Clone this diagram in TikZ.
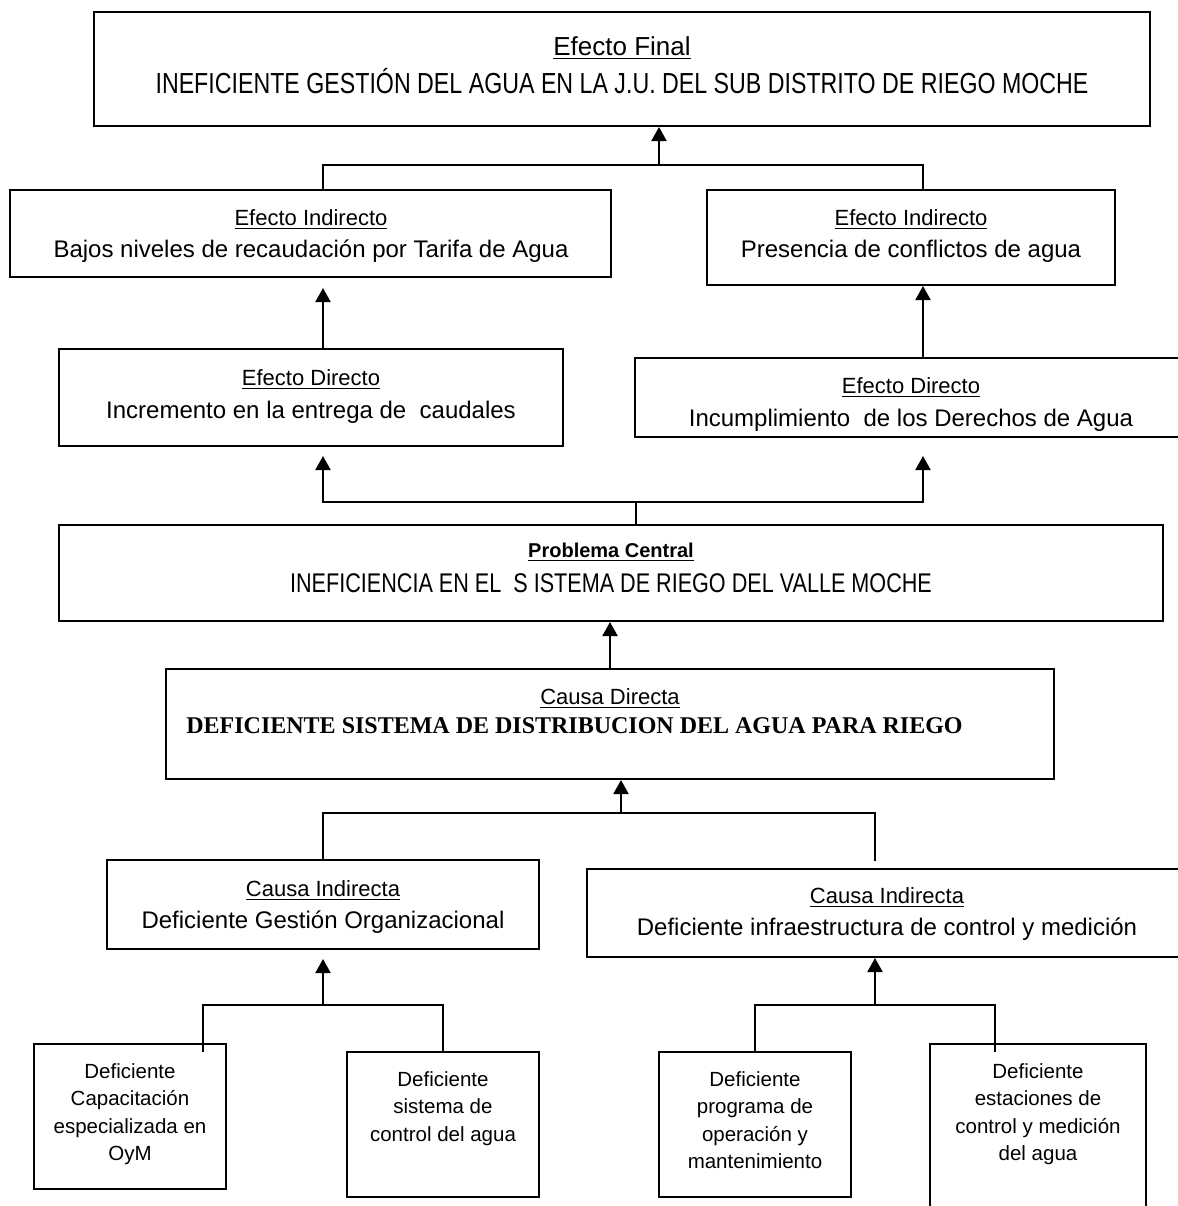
\documentclass[tikz,border=0pt]{standalone}
\usepackage{fontspec}
\setmainfont{Liberation Sans}
\newfontfamily\narrowfont{Liberation Sans}[FakeStretch=0.8]
\newfontfamily\timesfont{Liberation Serif}
\usetikzlibrary{arrows.meta}

\begin{document}
\begin{tikzpicture}[x=0.5pt,y=-0.5pt]
\tikzset{box/.style={draw,line width=1pt,rectangle,inner sep=0pt},
  lbl/.style={anchor=base,inner sep=0pt},
  ttl/.style={lbl,font=\fontsize{11}{13}\selectfont},
  txt/.style={lbl,font=\fontsize{12}{14}\selectfont},
  big/.style={lbl,font=\narrowfont\fontsize{14.5}{17}\selectfont},
  leaf/.style={anchor=north,inner sep=0pt,align=center,font=\fontsize{10.25}{13.75}\selectfont},
  arr/.style={line width=1pt,-{Triangle[length=7pt,width=7.5pt]}},
  ln/.style={line width=0.8pt}}

\useasboundingbox (0,0) rectangle (1178,1206);
\clip (0,0) rectangle (1178,1206);

% efectos
\path (622,69) node[box,minimum width=528pt,minimum height=57pt] (ef) {};
\path (622,55) node[lbl,font=\fontsize{13}{15}\selectfont] (efT) {\underline{Efecto Final}};
\path (622,93) node[big] (efM) {INEFICIENTE GESTIÓN DEL AGUA EN LA J.U. DEL SUB DISTRITO DE RIEGO MOCHE};

\path (310.5,233.5) node[box,minimum width=300.5pt,minimum height=43.5pt] (ei1) {};
\path (311,225) node[ttl] (ei1T) {\underline{Efecto Indirecto}};
\path (311,257) node[txt] (ei1M) {Bajos niveles de recaudación por Tarifa de Agua};

\path (911,237.5) node[box,minimum width=204pt,minimum height=47.5pt] (ei2) {};
\path (911,225) node[ttl] (ei2T) {\underline{Efecto Indirecto}};
\path (911,257) node[txt] (ei2M) {Presencia de conflictos de agua};

\path (311,397.5) node[box,minimum width=252pt,minimum height=48.5pt] (ed1) {};
\path (311,385) node[ttl] (ed1T) {\underline{Efecto Directo}};
\path (311,418) node[txt] (ed1M) {Incremento en la entrega de\ \ caudales};

\path (912.5,397.5) node[box,minimum width=277.5pt,minimum height=39.5pt] (ed2) {};
\path (911,393) node[ttl] (ed2T) {\underline{Efecto Directo}};
\path (911,426) node[txt] (ed2M) {Incumplimiento\ \ de los Derechos de Agua};

% problema central
\path (611,573) node[box,minimum width=552pt,minimum height=48pt] (pc) {};
\path (611,557) node[lbl,font=\bfseries\fontsize{10}{12}\selectfont] (pcT) {\underline{Problema Central}};
\path (611,592) node[lbl,font=\narrowfont\fontsize{13.5}{16}\selectfont] (pcM) {INEFICIENCIA EN EL\ \ S ISTEMA DE RIEGO DEL VALLE MOCHE};

% causas
\path (610,724) node[box,minimum width=444pt,minimum height=55pt] (cd) {};
\path (610,704) node[ttl] (cdT) {\underline{Causa Directa}};
\path (186,733) node[lbl,anchor=base west,font=\timesfont\bfseries\fontsize{12}{14}\selectfont] (cdM) {DEFICIENTE SISTEMA DE DISTRIBUCION DEL AGUA PARA RIEGO};

\path (323,904.5) node[box,minimum width=216pt,minimum height=44.5pt] (ci1) {};
\path (323,896) node[ttl] (ci1T) {\underline{Causa Indirecta}};
\path (323,928) node[txt] (ci1M) {Deficiente Gestión Organizacional};

\path (888.5,913) node[box,minimum width=301.5pt,minimum height=44pt] (ci2) {};
\path (887,903) node[ttl] (ci2T) {\underline{Causa Indirecta}};
\path (887,935) node[txt] (ci2M) {Deficiente infraestructura de control y medición};

\path (130,1116.5) node[box,minimum width=96pt,minimum height=72.5pt] (l1) {};
\path (130,1063) node[leaf] (l1T) {Deficiente\\Capacitación\\especializada en\\OyM};
\path (443,1124.5) node[box,minimum width=96pt,minimum height=72.5pt] (l2) {};
\path (443,1071) node[leaf] (l2T) {Deficiente\\sistema de\\control del agua};
\path (755,1124.5) node[box,minimum width=96pt,minimum height=72.5pt] (l3) {};
\path (755,1071) node[leaf] (l3T) {Deficiente\\programa de\\operación y\\mantenimiento};
\path (1038,1137) node[box,minimum width=108pt,minimum height=93pt] (l4) {};
\path (1038,1063) node[leaf] (l4T) {Deficiente\\estaciones de\\control y medición\\del agua};

% conectores
\coordinate (j1) at (659,165);
\coordinate (j1l) at (323,165);
\coordinate (j1r) at (923,165);
\draw[ln] (ei1.north -| j1l) -- (j1l) -- (j1r) -- (ei2.north -| j1r);
\draw[arr] (j1) -- (ef.south -| j1);

\draw[arr,shorten >=5pt] (ed1.north -| j1l) -- (ei1.south -| j1l);
\draw[arr] (ed2.north -| j1r) -- (ei2.south -| j1r);

\coordinate (j2) at (636,502);
\coordinate (j2l) at (323,502);
\coordinate (j2r) at (923,502);
\draw[ln] (pc.north -| j2) -- (j2);
\draw[arr,shorten >=4.5pt] (j2) -- (j2l) -- (ed1.south -| j2l);
\draw[arr,shorten >=9pt] (j2) -- (j2r) -- (ed2.south -| j2r);

\coordinate (j3) at (610,645);
\draw[arr] (cd.north -| j3) -- (pc.south -| j3);

\coordinate (j4) at (621,813);
\coordinate (j4l) at (323,813);
\coordinate (j4r) at (875,813);
\draw[ln,shorten >=3.5pt] (ci1.north -| j4l) -- (j4l) -- (j4r) -- (ci2.north -| j4r);
\draw[arr] (j4) -- (cd.south -| j4);

\coordinate (j5) at (323,1005);
\coordinate (j5l) at (203,1005);
\coordinate (j5r) at (443,1005);
\draw[ln,shorten <=-4.5pt] (l1.north -| j5l) -- (j5l) -- (j5r) -- (l2.north -| j5r);
\draw[arr,shorten >=4.5pt] (j5) -- (ci1.south -| j5);

\coordinate (j6) at (875,1005);
\coordinate (j6l) at (755,1005);
\coordinate (j6r) at (995,1005);
\draw[ln,shorten >=-4.5pt] (l3.north -| j6l) -- (j6l) -- (j6r) -- (l4.north -| j6r);
\draw[arr] (j6) -- (ci2.south -| j6);

\end{tikzpicture}
\end{document}
